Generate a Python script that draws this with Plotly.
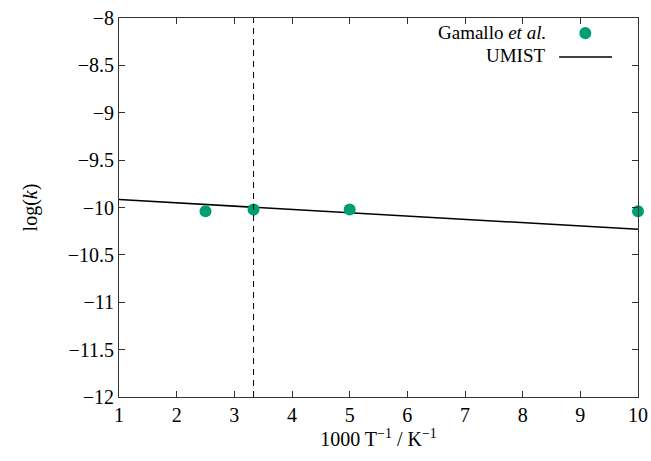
import plotly.graph_objects as go

# Data
gamallo_x = [2.5, 3.333, 5.0, 10.0]
gamallo_y = [-10.04, -10.02, -10.02, -10.04]
umist_x = [1.0, 10.0]
umist_y = [-9.915, -10.23]
dashed_x = 1000.0 / 300.0
x_ticks = [1, 2, 3, 4, 5, 6, 7, 8, 9, 10]
y_ticks = [-8, -8.5, -9, -9.5, -10, -10.5, -11, -11.5, -12]
y_tick_text = ["\u22128", "\u22128.5", "\u22129", "\u22129.5", "\u221210",
               "\u221210.5", "\u221211", "\u221211.5", "\u221212"]

FONT = "Liberation Serif"
FS = 20
green = "#009E73"

fig = go.Figure()
fig.add_trace(go.Scatter(x=umist_x, y=umist_y, mode="lines",
                         line=dict(color="black", width=1.6), showlegend=False))
fig.add_trace(go.Scatter(x=gamallo_x, y=gamallo_y, mode="markers",
                         marker=dict(color=green, size=12), showlegend=False,
                         cliponaxis=False))
fig.add_vline(x=dashed_x, line=dict(color="black", width=1, dash="6px,5px"))

# legend (text to the left of key, like gnuplot)
fig.add_annotation(xref="paper", yref="paper", x=0.824, y=0.962, xanchor="right",
                   yanchor="middle", showarrow=False, borderpad=0,
                   text="Gamallo <i>et al.</i>", font=dict(family=FONT, size=19, color="black"))
fig.add_annotation(xref="paper", yref="paper", x=0.824, y=0.900, xanchor="right",
                   yanchor="middle", showarrow=False, borderpad=0,
                   text="UMIST", font=dict(family=FONT, size=19, color="black"))
fig.add_shape(type="line", xref="paper", yref="paper", x0=0.848, x1=0.950,
              y0=0.897, y1=0.897, line=dict(color="black", width=1.6))
fig.add_shape(type="circle", xref="paper", yref="paper", x0=0.887, x1=0.910,
              y0=0.944, y1=0.976, fillcolor=green, line=dict(width=0))

axis_common = dict(showline=True, linecolor="#333333", linewidth=1, mirror="ticks",
                   ticks="inside", ticklen=6, tickcolor="#333333", showgrid=False,
                   zeroline=False, automargin=False,
                   tickfont=dict(family=FONT, size=FS, color="black"))
fig.update_xaxes(range=[1, 10], tickvals=x_ticks,
                 title=dict(text="1000 T<sup>\u22121</sup> / K<sup>\u22121</sup>",
                            font=dict(family=FONT, size=FS, color="black"), standoff=4),
                 **axis_common)
fig.update_yaxes(range=[-12, -8], tickvals=y_ticks, ticktext=y_tick_text,
                 title=dict(text="log(<i>k</i>)", font=dict(family=FONT, size=FS, color="black"),
                            standoff=24),
                 **axis_common)

fig.update_layout(width=651, height=461, margin=dict(l=119, r=13, t=18, b=64),
                  plot_bgcolor="white", paper_bgcolor="white")
fig.write_html("out.html")
